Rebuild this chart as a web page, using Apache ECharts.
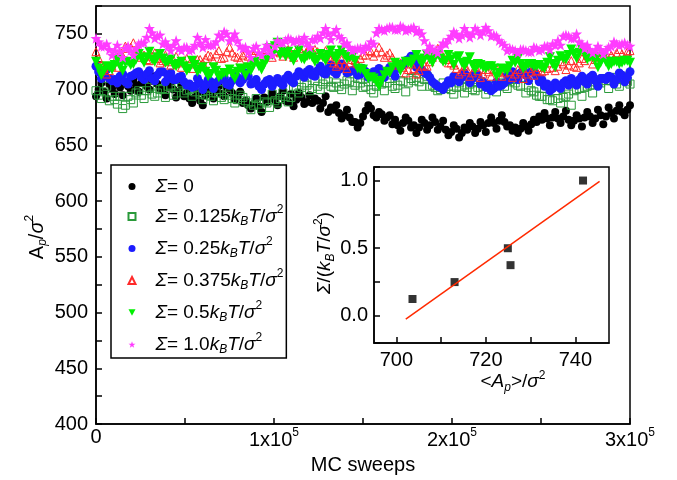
<!DOCTYPE html>
<html><head><meta charset="utf-8">
<script src="https://cdn.jsdelivr.net/npm/echarts@6/dist/echarts.min.js"></script>
<style>html,body{margin:0;padding:0;background:#fff}#c{width:677px;height:480px}</style>
</head><body><div id="c"></div>
<script>
// ---- data ----
// samples at 0, 3000, ... 300000 sweeps and the in-between samples at 1500, 4500, ... 298500
const sweeps = Array.from({length:101},(_,i)=>i*3000);
const sweepsMid = Array.from({length:100},(_,i)=>i*3000+1500);
const s0 = [694,706,692,701,708,695,703, 709,698,710,700,712,701, 695,707,693,704,697, 688,697,686, 701,692,703,694,700,691,698,690, 683,692,680,689, 697,686,699,689,685,697,687,695, 692,683,694,684, 686,674,682,671, 666,676, 686,677, 680,672,677, 673,663,675,666,661,673,664, 675,664,672, 659,668,657,666, 670,661,671,662, 675,665,677,667,663, 661,670,663,673,676, 679,668,680,670,681,668,677, 667,680,670,682,669, 684,674,686,677,686];
const s0Mid = [700,698,705,696,702,707,699,704,706,703, 708,705,699,702,700,698,694,692,693,690, 695,697,699,696,702,697,694,688,686,687, 685,693,692,691,694,690,696,691,693,689, 688,690,688,680,682,679,677,675,671,670, 681,683,675,678,675,669,668,670,672,668, 666,670,668,671,667,664,662,665,661,664, 667,665,668,670,670,672,671,668,666,665, 667,669,671,673,674,675,674,676,673,672, 674,675,676,674,677,676,679,681,680,682];
const s1 = [699,692,703,694, 687,683,694,688, 699,692,702,694,700,693, 704,697,706,699,694,702,691, 699,690,700,691,697,688,695, 690,682,692,683,688, 696,688,697,689, 703,697,706,699,708,700,709,703, 706,700,708,699,710,702,707,697, 707,699,710,701,708,698,710, 711,703,712,704,699,706, 703,696,706,697,705,699,707,696,704, 698,706,701,709,704, 711,702,698,694,701, 691,699,688,694,686, 700,694,703,697,706, 710,701,711,703,712,705];
const s1Mid = [695,698,690,691,694,686,691,697,695,699, 696,697,701,703,695,702,697,700,698,696, 695,694,697,693,695,692,691,693,688,686, 687,689,684,690,692,694,693,700,702,704, 701,703,705,707,702,703,705,707,704,706, 703,700,703,705,706,703,704,707,706,708, 707,709,703,702,700,701,700,702,703,702, 700,702,703,700,703,705,703,707,706,703, 697,699,695,694,691,690,692,693,696,699, 701,702,704,707,706,708,708,705,709,707];
const s2 = [721,710,718,708, 706,714,705,713,716, 709,717,708,716,707,715,709,712,704, 702,710,700,709,701,708,711, 704,713,706,715,705,709,700, 708,703,710,704,713,706, 716,711,718,712,721,714, 722,714,723,715,717,713,719,711,716, 719,711,720,712,721, 726,730,720,718, 714,707,703,700,708, 712,707,715,706,714,705, 702,699,707,704,713, 716,709,718,708,716,707,703,699, 706,701,708, 710,704,712,705,713,703,710, 712,705,715,707,716];
const s2Mid = [716,713,710,709,712,707,712,715,711,714, 710,713,716,712,709,711,707,705,703,706, 704,707,706,709,705,708,711,709,712,706, 703,705,709,707,706,710,708,712,714,716, 713,717,715,719,716,718,720,716,718,714, 716,713,716,714,717,715,719,722,727,725, 720,715,711,705,702,704,706,709,711,712, 710,713,707,704,701,703,706,709,712,715, 713,716,712,709,705,701,703,706,704,707, 709,707,711,708,710,709,711,709,713,711];
const s3 = [734,722,714,721, 720,730,737, 742,735,731, 726,733,724,731, 722,730,720,728,719,727,724, 731,726,735,729,738,730,726,733,727, 735,728,736,729,737,730,736,729,737,731,738, 736,731,735,727, 721,727,719,727,723,731, 735,730,738,729,733,724, 724,715,723,714,721, 721,729,737,729,724, 722,714,721,712,720,711,718,712,719, 712,720,711,718,710,719,713,720,717, 724,717,725,718,726, 720,728,731,723,730,733, 735,728,736,729,735];
const s3Mid = [728,719,717,725,733,739,738,733,729,727, 730,728,726,725,727,724,726,723,725,727, 728,730,732,728,734,733,729,731,730,731, 732,733,732,734,733,734,732,735,734,735, 735,734,732,730,724,723,722,724,726,728, 731,734,733,734,731,729,722,720,718,719, 717,722,725,733,734,727,724,719,716,718, 715,717,714,716,718,716,715,716,714,716, 714,716,717,716,719,720,721,723,722,721, 724,726,730,727,729,732,731,733,732,734];
const s4 = [725,713,721,718, 727,717,725,723, 732,724,734,725,732,724, 727,721,725,717,726,716,720, 712,720,711,715,718,710,719,713, 717,725,718,727, 731,742,734, 734,726,735,727,731,725,732,726, 735,727,735,728,729, 719,718,710,710,703,713, 715,724,717,725,723, 731,723,731,724,732,725,731,722,730, 721,729,718,722,719,721, 712,719,717,726, 728,719,723,721,722,719,729,720, 730,727,736,728,736,727, 729,720,729,721,725,723,726,724];
const s4Mid = [719,717,720,722,721,724,722,727,728,729, 727,729,728,725,722,723,721,719,722,718, 716,714,717,713,715,714,716,718,720,722, 721,723,737,739,731,730,729,731,728,730, 729,727,729,731,730,732,731,729,726,718, 714,711,707,708,716,720,722,721,724,727, 727,728,727,729,728,726,727,729,724,725, 722,723,720,721,719,715,718,721,724,723, 721,723,721,720,724,723,726,728,731,732, 733,732,729,727,724,725,723,725,724,726];
const s5 = [746,739,741, 731,740,729,739,731,741, 742,755,746,749, 743,735,744,735,738,736, 747,738,740,740,749, 752,744,750,739, 738,729,739,731,740,731, 744,742,746,743,745, 747,738,745, 746,755,745,754,746,742, 735,737,735,738,741, 755,753,756,754,757,753,755,752, 750,735,736,733,742, 745,752,746,755,747,755,749,756,748,748, 742,735,736,733,736,734,738,735, 739,736,740,740, 749,746,750,741, 740,733,739,732,738, 743,740,742,739];
const s5Mid = [743,739,736,735,734,737,735,737,742,747, 751,748,741,739,740,737,738,735,740,742, 745,740,743,747,750,746,744,737,734,737, 733,736,735,739,742,744,745,744,743,742, 745,748,751,750,751,748,741,738,736,737, 739,743,751,754,755,756,754,756,754,756, 753,744,739,735,738,741,748,750,749,751, 750,753,752,753,749,744,740,737,735,736, 735,734,737,736,739,741,744,748,748,746, 743,737,736,735,736,735,739,741,741,740];
const seriesNames = ['Σ = 0','Σ = 0.125','Σ = 0.25','Σ = 0.375','Σ = 0.5','Σ = 1.0'];
const insetArea = [703.6, 713.0, 724.9, 725.5, 741.7];
const insetSigma = [0.125, 0.25, 0.5, 0.375, 1.0];
const fitArea = [702.1, 745.4];
const fitSigma = [-0.024, 0.993];

// ---- styling ----
const FF = '"Liberation Sans", Arial, sans-serif';
function mkRich(sz){
  const sm = Math.round(sz*0.62);
  return {
    n:{fontSize:sz,fontFamily:FF,color:'#000',fill:'#000'},
    i:{fontSize:sz,fontFamily:FF,fontStyle:'italic',color:'#000',fill:'#000'},
    L:{fontSize:sz,fontFamily:FF,fontStyle:'italic',color:'#000',fill:'#000',padding:[0,0,0,15]},
    sub:{fontSize:sm,fontFamily:FF,fontStyle:'italic',color:'#000',fill:'#000',padding:[Math.round(sz*0.6),0,0,0]},
    sup:{fontSize:sm,fontFamily:FF,color:'#000',fill:'#000',padding:[0,0,Math.round(sz*0.7),0]}
  };
}
const unit = '{i|k}{sub|B}{i|T}{n|/}{i|σ}{sup|2}';
const legendText = {
  'Σ = 0':'{L|Σ}{n|= 0}',
  'Σ = 0.125':'{L|Σ}{n|= 0.125}'+unit,
  'Σ = 0.25':'{L|Σ}{n|= 0.25}'+unit,
  'Σ = 0.375':'{L|Σ}{n|= 0.375}'+unit,
  'Σ = 0.5':'{L|Σ}{n|= 0.5}'+unit,
  'Σ = 1.0':'{L|Σ}{n|= 1.0}'+unit
};
const star = 'path://M0,-10L2.35,-3.24L9.51,-3.09L3.8,1.24L5.88,8.09L0,4L-5.88,8.09L-3.8,1.24L-9.51,-3.09L-2.35,-3.24Z';
const downTri = 'path://M-10,-9L10,-9L0,9Z';
const black = '#000';
const TS = 20;
const axisCommon = {
  axisLine:{show:true,onZero:false,lineStyle:{color:black,width:1.5}},
  axisTick:{show:true,inside:true,length:6,lineStyle:{color:black,width:1.5}},
  splitLine:{show:false}
};
const pts = (a,b) => sweeps.map((x,i)=>[x,a[i]]).concat(sweepsMid.map((x,i)=>[x,b[i]]));

const chart = echarts.init(document.getElementById('c'), null, {renderer:'canvas'});
chart.setOption({
  animation:false,
  backgroundColor:'#fff',
  grid:[
    {left:96, top:6, width:534, height:425, show:true, borderColor:black, borderWidth:1.5, backgroundColor:'transparent'},
    {left:374, top:167, width:235, height:176, show:true, borderColor:black, borderWidth:1.5, backgroundColor:'#fff'}
  ],
  xAxis:[
    Object.assign({gridIndex:0,type:'value',min:0,max:300000,interval:100000,
      minorTick:{show:true,splitNumber:2,length:6,lineStyle:{color:black,width:1.5}},
      axisLabel:{color:black,fontSize:TS,fontFamily:FF,margin:3,showMaxLabel:true,
        formatter:v=> v===0 ? '0' : (v/100000)+'x10{sup|5}', rich:mkRich(TS)},
      name:'MC sweeps', nameLocation:'middle', nameGap:25,
      nameTextStyle:{color:black,fontSize:20,fontFamily:FF}
    }, axisCommon),
    Object.assign({gridIndex:1,type:'value',min:695,max:747.5,splitNumber:5,
      axisLabel:{color:black,fontSize:TS,fontFamily:FF,margin:7,showMinLabel:false,showMaxLabel:false,
        formatter:v=> (Math.abs(v%20)<1e-6) ? String(v) : ''}
    }, axisCommon)
  ],
  yAxis:[
    Object.assign({gridIndex:0,type:'value',min:400,max:775,interval:50,
      minorTick:{show:true,splitNumber:2,length:6,lineStyle:{color:black,width:1.5}},
      axisLabel:{color:black,fontSize:TS,fontFamily:FF,margin:8,showMaxLabel:false,
        formatter:v=> v>760 ? '' : String(v)}
    }, axisCommon),
    Object.assign({gridIndex:1,type:'value',min:-0.2,max:1.1,splitNumber:3,
      minorTick:{show:true,splitNumber:2,length:6,lineStyle:{color:black,width:1.5}},
      axisLabel:{color:black,fontSize:TS,fontFamily:FF,margin:6,showMinLabel:false,showMaxLabel:false,
        formatter:v=> (Math.abs(v*2-Math.round(v*2))<1e-6 && v>=0) ? v.toFixed(1) : ''}
    }, axisCommon)
  ],
  legend:{
    orient:'vertical', left:111, top:165,
    itemWidth:7, itemHeight:7, itemGap:8,
    padding:[12,3,2,16.5],
    borderColor:black, borderWidth:1.5, backgroundColor:'#fff',
    selectedMode:false,
    textStyle:{color:black,fontSize:19,fontFamily:FF,rich:mkRich(19)},
    formatter:n=>legendText[n],
    data:seriesNames
  },
  graphic:[
    {type:'text', x:37, y:237, rotation:Math.PI/2,
      style:{text:'{n|A}{sub|p}{n|/}{i|σ}{sup|2}', rich:mkRich(20), align:'center', verticalAlign:'middle'}},
    {type:'text', x:325, y:253, rotation:Math.PI/2,
      style:{text:'{i|Σ}{n|/(}{i|k}{sub|B}{i|T}{n|/}{i|σ}{sup|2}{n|)}', rich:mkRich(19), align:'center', verticalAlign:'middle'}},
    {type:'text', x:513, y:382,
      style:{text:'{n|<}{i|A}{sub|p}{n|>/}{i|σ}{sup|2}', rich:mkRich(19), align:'center', verticalAlign:'middle'}}
  ],
  series:[
    {name:seriesNames[0],type:'scatter',xAxisIndex:0,yAxisIndex:0,data:pts(s0,s0Mid),symbol:'circle',symbolSize:8,
      itemStyle:{color:'#000',opacity:1}},
    {name:seriesNames[1],type:'scatter',xAxisIndex:0,yAxisIndex:0,data:pts(s1,s1Mid),symbol:'rect',symbolSize:8,
      itemStyle:{color:'rgba(255,255,255,0)',borderColor:'#2a9a3a',borderWidth:1,opacity:1}},
    {name:seriesNames[2],type:'scatter',xAxisIndex:0,yAxisIndex:0,data:pts(s2,s2Mid),symbol:'circle',symbolSize:9,
      itemStyle:{color:'#1c1cff',opacity:1}},
    {name:seriesNames[3],type:'scatter',xAxisIndex:0,yAxisIndex:0,data:pts(s3,s3Mid),symbol:'triangle',symbolSize:8,
      itemStyle:{color:'rgba(255,255,255,0)',borderColor:'#ff2a2a',borderWidth:1,opacity:1}},
    {name:seriesNames[4],type:'scatter',xAxisIndex:0,yAxisIndex:0,data:pts(s4,s4Mid),symbol:downTri,symbolSize:10,
      itemStyle:{color:'#00f000',opacity:1}},
    {name:seriesNames[5],type:'scatter',xAxisIndex:0,yAxisIndex:0,data:pts(s5,s5Mid),symbol:star,symbolSize:11,
      itemStyle:{color:'#ff3cff',opacity:1}},
    {type:'scatter',xAxisIndex:1,yAxisIndex:1,data:insetArea.map((a,i)=>[a,insetSigma[i]]),symbol:'rect',symbolSize:8,
      itemStyle:{color:'#000'}},
    {type:'line',xAxisIndex:1,yAxisIndex:1,data:fitArea.map((a,i)=>[a,fitSigma[i]]),showSymbol:false,
      lineStyle:{color:'#ff2a00',width:1.5}}
  ]
});
</script>
</body></html>
